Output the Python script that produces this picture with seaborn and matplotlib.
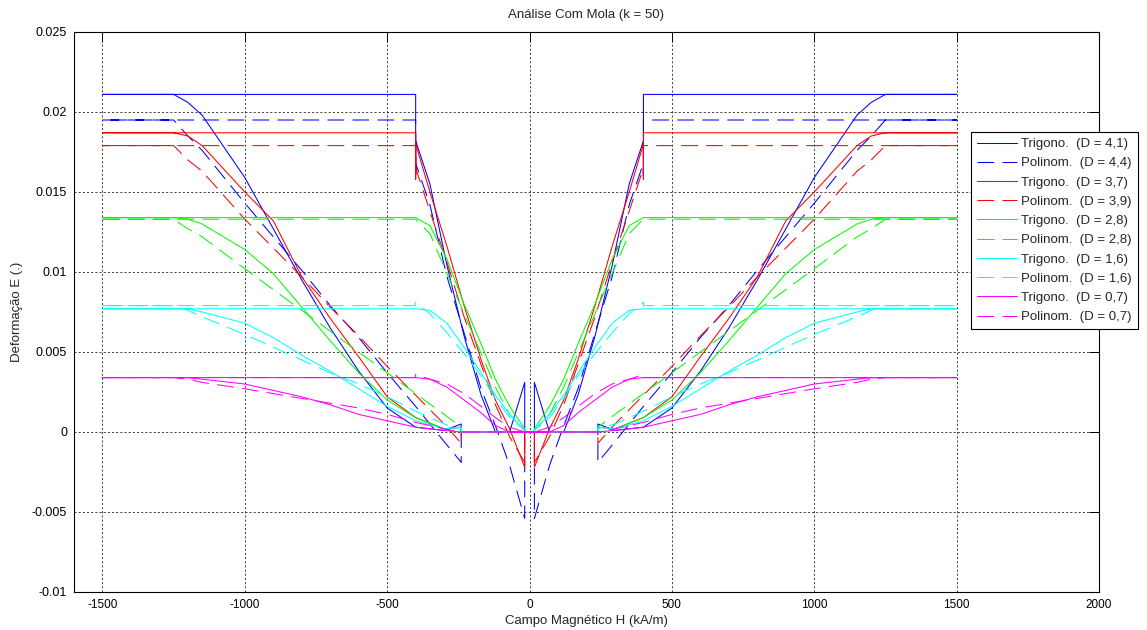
import matplotlib
matplotlib.use("Agg")
import matplotlib.pyplot as plt
from matplotlib import font_manager as fm
from matplotlib.lines import Line2D
import seaborn as sns
import pandas as pd

# ---------------- data ----------------
H_MAX = 1500          # end of the field sweep (kA/m)
H_SWITCH = 400        # field where the saturated branch jumps
H_LINK = 240          # field where the return branch ends

# left half of the return (outer) branch, H increasing
OUTER_H = [-1250, -1200, -1150, -1000, -900, -800, -700, -600, -500, -400, -300, -240]
# left half of the inner branch, H increasing toward 0
INNER_H = [-400, -350, -290, -230, -170, -120, -70, -17]

LABELS = ["Trigono.  (D = 4,1)", "Polinom.  (D = 4,4)",
          "Trigono.  (D = 3,7)", "Polinom.  (D = 3,9)",
          "Trigono.  (D = 2,8)", "Polinom.  (D = 2,8)",
          "Trigono.  (D = 1,6)", "Polinom.  (D = 1,6)",
          "Trigono.  (D = 0,7)", "Polinom.  (D = 0,7)"]

SAT = [0.0211, 0.0195, 0.0187, 0.0179, 0.0134, 0.0133, 0.0077, 0.0079, 0.0034, 0.0034]
DROP = [0.0161, 0.0160, 0.0158, 0.0160, 0.0134, 0.0133, 0.0077, 0.0079, 0.0034, 0.0034]

IN_BT = [0.0182, 0.0155, 0.0104, 0.0060, 0.0023, 0.0000, 0.0000, 0.0031]
IN_BP = [0.0168, 0.0142, 0.0097, 0.0062, 0.0027, 0.0004, -0.0021, -0.0054]
IN_RT = [0.0180, 0.0150, 0.0116, 0.0079, 0.0045, 0.0020, 0.0002, -0.0022]
IN_RP = [0.0165, 0.0138, 0.0106, 0.0072, 0.0042, 0.0017, -0.0003, -0.0019]
IN_GT = [0.0134, 0.0129, 0.0108, 0.0080, 0.0055, 0.0033, 0.0016, 0.0002]
IN_GP = [0.0133, 0.0124, 0.0099, 0.0074, 0.0049, 0.0028, 0.0011, 0.0001]
IN_CT = [0.0077, 0.0076, 0.0068, 0.0053, 0.0037, 0.0023, 0.0011, 0.0001]
IN_CP = [0.0081, 0.0074, 0.0062, 0.0049, 0.0035, 0.0021, 0.0009, 0.0001]
IN_MT = [0.0034, 0.0033, 0.0028, 0.0020, 0.0012, 0.0004, 0.0000, 0.0000]
IN_MP = [0.0036, 0.0033, 0.0030, 0.0024, 0.0016, 0.0009, 0.0003, 0.0000]

OUT_BT = [0.0211, 0.0206, 0.0198, 0.0159, 0.0127, 0.0095, 0.0065, 0.0038, 0.0015, 0.0003, 0.0001, 0.0005]
OUT_BP = [0.0195, 0.0185, 0.0176, 0.0143, 0.0122, 0.0101, 0.0079, 0.0059, 0.0037, 0.0016, -0.0006, -0.0019]
OUT_RT = [0.0187, 0.0185, 0.0179, 0.0150, 0.0132, 0.0097, 0.0071, 0.0047, 0.0022, 0.0009, 0.0002, 0.0003]
OUT_RP = [0.0179, 0.0170, 0.0163, 0.0133, 0.0115, 0.0097, 0.0078, 0.0060, 0.0041, 0.0023, 0.0005, -0.0007]
OUT_GT = [0.0134, 0.0133, 0.0130, 0.0114, 0.0099, 0.0078, 0.0057, 0.0037, 0.0020, 0.0009, 0.0002, 0.0003]
OUT_GP = [0.0133, 0.0127, 0.0122, 0.0102, 0.0089, 0.0076, 0.0063, 0.0050, 0.0037, 0.0024, 0.0011, 0.0003]
OUT_CT = [0.0077, 0.0077, 0.0075, 0.0068, 0.0059, 0.0048, 0.0038, 0.0027, 0.0016, 0.0007, 0.0002, 0.0003]
OUT_CP = [0.0079, 0.0076, 0.0072, 0.0061, 0.0053, 0.0045, 0.0037, 0.0030, 0.0022, 0.0013, 0.0005, 0.0002]
OUT_MT = [0.0034, 0.0034, 0.0033, 0.0030, 0.0026, 0.0022, 0.0017, 0.0011, 0.0007, 0.0003, 0.0001, 0.0000]
OUT_MP = [0.0034, 0.0033, 0.0031, 0.0027, 0.0024, 0.0021, 0.0018, 0.0015, 0.0011, 0.0006, 0.0002, 0.0000]

INNERS = [IN_BT, IN_BP, IN_RT, IN_RP, IN_GT, IN_GP, IN_CT, IN_CP, IN_MT, IN_MP]
OUTERS = [OUT_BT, OUT_BP, OUT_RT, OUT_RP, OUT_GT, OUT_GP, OUT_CT, OUT_CP, OUT_MT, OUT_MP]

X_TICKS = [-1500, -1000, -500, 0, 500, 1000, 1500, 2000]
Y_TICKS = [-0.01, -0.005, 0, 0.005, 0.01, 0.015, 0.02, 0.025]
Y_TICKLABELS = ["-0.01", "-0.005", "0", "0.005", "0.01", "0.015", "0.02", "0.025"]

# ---------------- style ----------------
COLORS = ["#0000ff", "#0000ff", "#ff0000", "#ff0000", "#00ff00", "#00ff00",
          "#00ffff", "#00ffff", "#ff00ff", "#ff00ff"]
DASH = (0, (16, 8))
STYLES = ["-", DASH] * 5
LW = 0.75

sns.set_theme(style="white")
names = {f.name for f in fm.fontManager.ttflist}
NARROW = "Liberation Sans Narrow" if "Liberation Sans Narrow" in names else "Liberation Sans"
plt.rcParams["font.family"] = ["Liberation Sans", "DejaVu Sans"]
plt.rcParams["axes.unicode_minus"] = False


def loop(sat, drop, inner, outer):
    h = ([-H_MAX, -H_SWITCH, -H_SWITCH] + INNER_H + [INNER_H[-1], H_LINK]
         + [-x for x in OUTER_H[::-1]] + [H_MAX])
    e = [sat, sat, drop] + inner + [0.0, 0.0] + outer[::-1] + [sat]
    return h + [-x for x in h], e + e


fig = plt.figure(figsize=(11.47, 6.30), dpi=100)
ax = fig.add_axes([74 / 1147, 38 / 630, 1025 / 1147, 560 / 630])

handles = []
for i, lab in enumerate(LABELS):
    hh, ee = loop(SAT[i], DROP[i], INNERS[i], OUTERS[i])
    df = pd.DataFrame({"H": hh, "E": ee})
    sns.lineplot(data=df, x="H", y="E", sort=False, estimator=None, ax=ax,
                 color=COLORS[i], linestyle=STYLES[i], linewidth=LW)
    handles.append(Line2D([], [], color=COLORS[i], linestyle=STYLES[i],
                          linewidth=LW))

ax.set_xlim(-1600, 2000)
ax.set_ylim(-0.01, 0.025)
ax.set_xticks(X_TICKS)
ax.set_xticklabels([str(v) for v in X_TICKS], fontfamily=NARROW, fontsize=8.5)
ax.set_yticks(Y_TICKS)
ax.set_yticklabels(Y_TICKLABELS, fontsize=9)
ax.tick_params(direction="in", length=7, width=0.7, top=True, right=True,
               colors="black", pad=5)
ax.grid(True, linestyle=(0, (2.5, 2.5)), color="#222222", linewidth=0.6)
ax.set_axisbelow(True)
for s in ax.spines.values():
    s.set_color("black")
    s.set_linewidth(0.8)

ax.set_title("Análise Com Mola (k = 50)", fontsize=9.5, pad=10)
ax.set_xlabel("Campo Magnético H (kA/m)", fontsize=9.5, labelpad=3)
ax.set_ylabel("Deformação E (.)", fontsize=9.5, labelpad=6)

leg = ax.legend(handles, LABELS, loc="upper left",
                bbox_to_anchor=(971 / 1147, 1 - 132 / 630),
                bbox_transform=fig.transFigure, frameon=True, fancybox=False,
                edgecolor="black", framealpha=1, fontsize=9.5,
                handlelength=3.0, handletextpad=0.35, labelspacing=0.53,
                borderpad=0.45, borderaxespad=0)
leg.get_frame().set_linewidth(0.8)

fig.savefig("out.png", dpi=100, facecolor="white")
